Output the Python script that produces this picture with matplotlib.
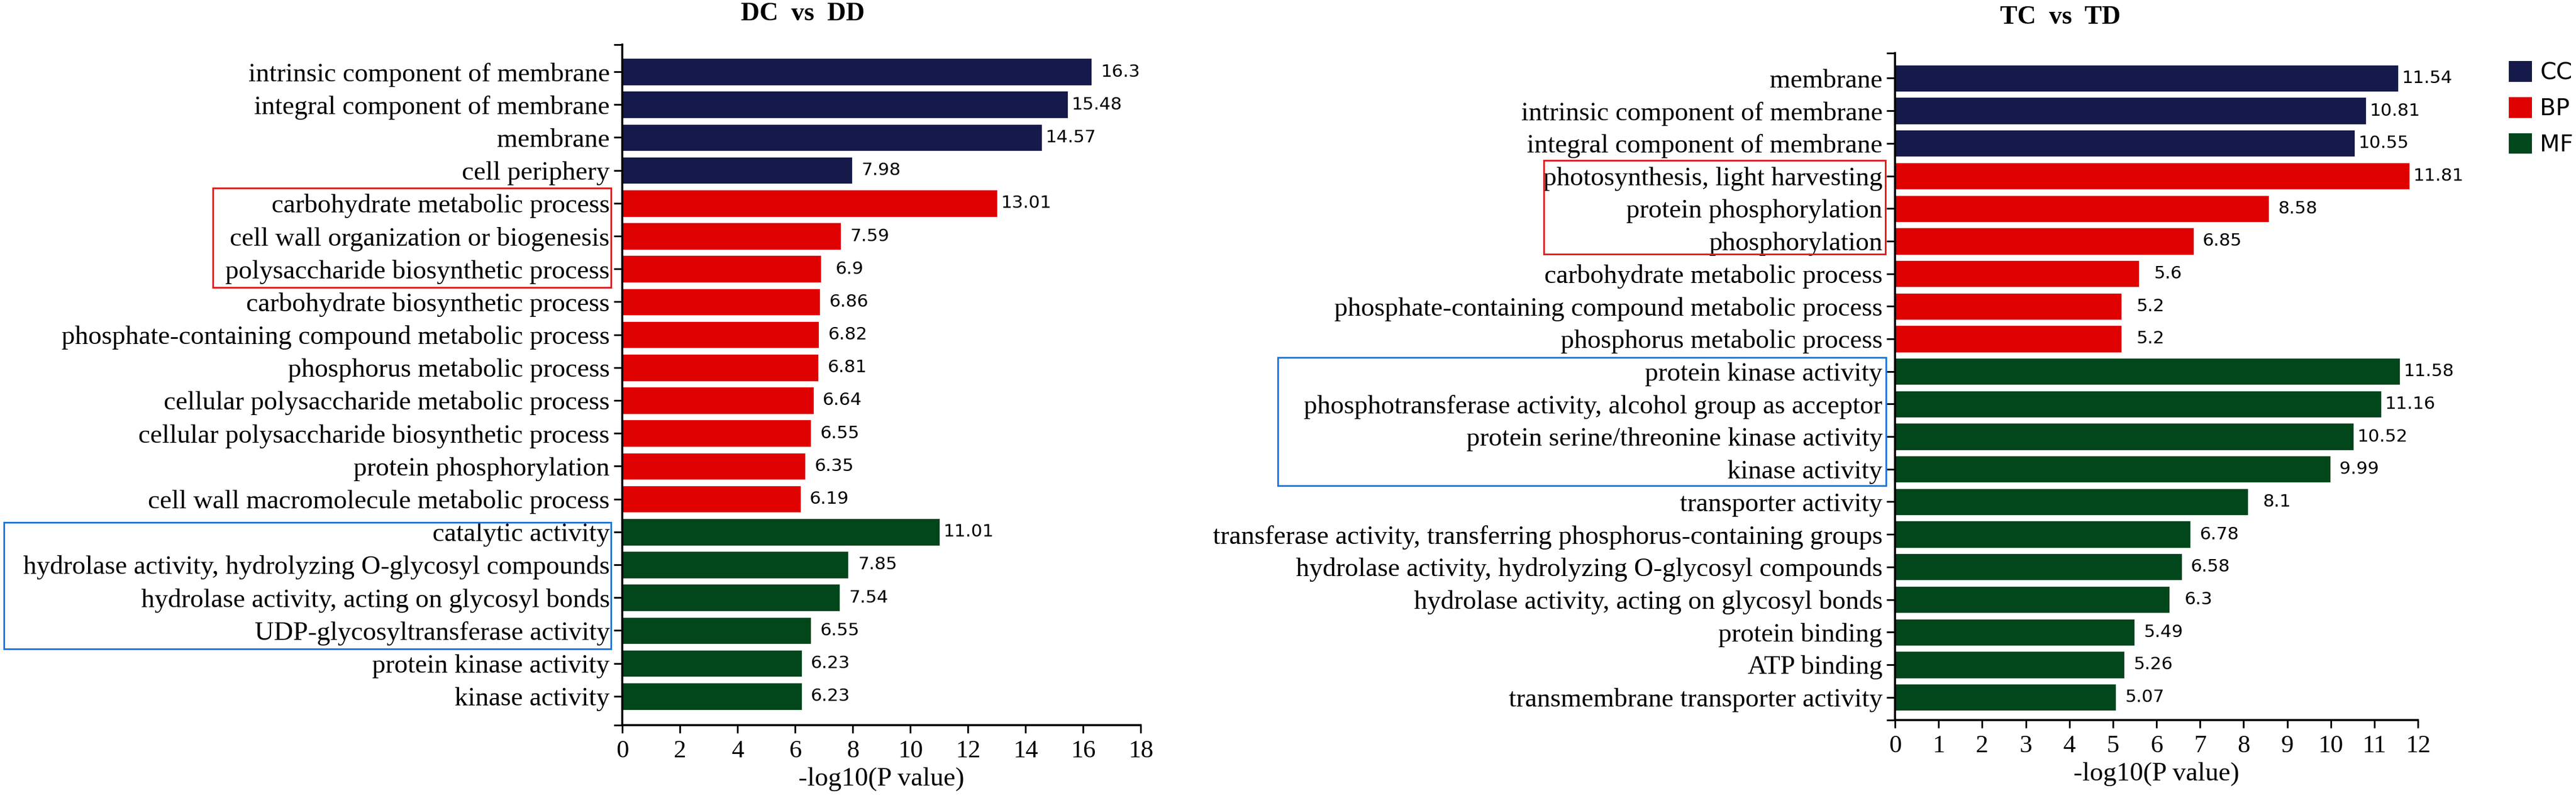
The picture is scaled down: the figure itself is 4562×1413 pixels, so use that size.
import matplotlib
matplotlib.use("Agg")
import matplotlib.pyplot as plt
from matplotlib.patches import Patch, Rectangle

# GO enrichment, -log10(P value)
dc_terms = [
    "intrinsic component of membrane",
    "integral component of membrane",
    "membrane",
    "cell periphery",
    "carbohydrate metabolic process",
    "cell wall organization or biogenesis",
    "polysaccharide biosynthetic process",
    "carbohydrate biosynthetic process",
    "phosphate-containing compound metabolic process",
    "phosphorus metabolic process",
    "cellular polysaccharide metabolic process",
    "cellular polysaccharide biosynthetic process",
    "protein phosphorylation",
    "cell wall macromolecule metabolic process",
    "catalytic activity",
    "hydrolase activity, hydrolyzing O-glycosyl compounds",
    "hydrolase activity, acting on glycosyl bonds",
    "UDP-glycosyltransferase activity",
    "protein kinase activity",
    "kinase activity",
]
dc_values = [16.3, 15.48, 14.57, 7.98, 13.01, 7.59, 6.9, 6.86, 6.82, 6.81,
             6.64, 6.55, 6.35, 6.19, 11.01, 7.85, 7.54, 6.55, 6.23, 6.23]
dc_groups = ["CC", "CC", "CC", "CC", "BP", "BP", "BP", "BP", "BP", "BP",
             "BP", "BP", "BP", "BP", "MF", "MF", "MF", "MF", "MF", "MF"]

tc_terms = [
    "membrane",
    "intrinsic component of membrane",
    "integral component of membrane",
    "photosynthesis, light harvesting",
    "protein phosphorylation",
    "phosphorylation",
    "carbohydrate metabolic process",
    "phosphate-containing compound metabolic process",
    "phosphorus metabolic process",
    "protein kinase activity",
    "phosphotransferase activity, alcohol group as acceptor",
    "protein serine/threonine kinase activity",
    "kinase activity",
    "transporter activity",
    "transferase activity, transferring phosphorus-containing groups",
    "hydrolase activity, hydrolyzing O-glycosyl compounds",
    "hydrolase activity, acting on glycosyl bonds",
    "protein binding",
    "ATP binding",
    "transmembrane transporter activity",
]
tc_values = [11.54, 10.81, 10.55, 11.81, 8.58, 6.85, 5.6, 5.2, 5.2, 11.58,
             11.16, 10.52, 9.99, 8.1, 6.78, 6.58, 6.3, 5.49, 5.26, 5.07]
tc_groups = ["CC", "CC", "CC", "BP", "BP", "BP", "BP", "BP", "BP", "MF",
             "MF", "MF", "MF", "MF", "MF", "MF", "MF", "MF", "MF", "MF"]

group_names = ["CC", "BP", "MF"]
group_colors = {"CC": "#151a4b", "BP": "#df0000", "MF": "#02461b"}

W, H = 4562, 1413
SERIF = "Liberation Serif"
SANS = "DejaVu Sans"

fig = plt.figure(figsize=(W / 100, H / 100), dpi=100)


def fx(px):
    return px / W


def fy(py):
    return 1 - py / H


def draw_panel(rect, terms, values, groups, xmax, xstep, ylim):
    left, top, right, bottom = rect
    ax = fig.add_axes([fx(left), fy(bottom), fx(right - left), (bottom - top) / H])
    pos = list(range(len(terms)))
    colors = [group_colors[g] for g in groups]
    ax.barh(pos, values, height=0.82, color=colors, edgecolor="white", linewidth=0.5)
    for p, v in zip(pos, values):
        ax.annotate(f"{v:g}", (v, p), xytext=(37, 0), textcoords="offset points",
                    ha="center", va="center", fontsize=22.5, family=SANS)
    ax.set_xlim(0, xmax)
    ax.set_ylim(*ylim)
    # ticks at both ends of the y axis give the little caps
    ax.set_yticks(pos + [ylim[0], ylim[1]])
    ax.set_yticklabels(terms + ["", ""], fontsize=34, family=SERIF)
    ax.set_xticks(range(0, xmax + 1, xstep))
    ax.set_xticklabels([str(t) for t in range(0, xmax + 1, xstep)], fontsize=32, family=SERIF)
    ax.tick_params(axis="y", length=11, width=2.2, pad=5)
    ax.tick_params(axis="x", length=10, width=2.2, pad=9)
    for s in ["top", "right"]:
        ax.spines[s].set_visible(False)
    for s in ["left", "bottom"]:
        ax.spines[s].set_linewidth(2.6)
    ax.set_xlabel("-log10(P value)", fontsize=34, family=SERIF, labelpad=6)
    return ax


ax1 = draw_panel((1102, 79, 2020, 1284), dc_terms, dc_values, dc_groups, 18, 2, (19.88, -0.825))
ax2 = draw_panel((3356, 94, 4282, 1275), tc_terms, tc_values, tc_groups, 12, 1, (19.70, -0.77))

fig.text(fx(1422), fy(25), "DC  vs  DD", ha="center", va="center",
         fontsize=33, family=SERIF, fontweight="bold")
fig.text(fx(3649), fy(31), "TC  vs  TD", ha="center", va="center",
         fontsize=33, family=SERIF, fontweight="bold")

# highlight boxes around selected terms
boxes = [
    ((377, 333, 1082, 509), "#e02020"),
    ((7, 925, 1082, 1149), "#1f78d8"),
    ((2734, 284, 3339, 450), "#e02020"),
    ((2263, 633, 3340, 860), "#1f78d8"),
]
for (x0, y0, x1, y1), c in boxes:
    fig.add_artist(Rectangle((fx(x0), fy(y1)), fx(x1 - x0), (y1 - y0) / H,
                             transform=fig.transFigure, fill=False,
                             edgecolor=c, linewidth=2.2))

handles = [Patch(facecolor=group_colors[g], edgecolor="none", label=g) for g in group_names]
fig.legend(handles=handles, loc="upper left", bbox_to_anchor=(fx(4443), fy(108)),
           frameon=False, borderpad=0, borderaxespad=0, handlelength=1.0,
           handleheight=1.0, handletextpad=0.35, labelspacing=0.55,
           prop={"family": SANS, "size": 29.5})

fig.savefig("out.png", dpi=100)
